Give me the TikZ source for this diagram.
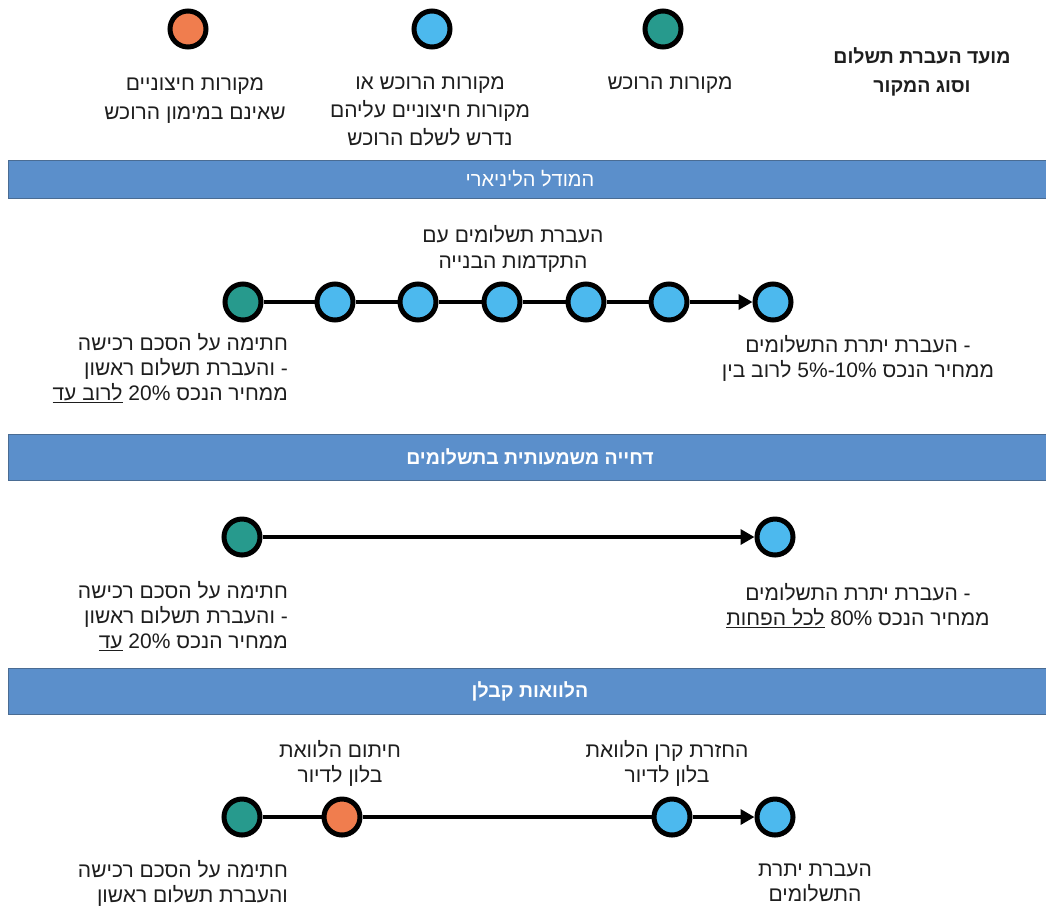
\documentclass[tikz,border=0pt]{standalone}
\usepackage{fontspec}
\setmainfont{Liberation Sans}[Script=Hebrew]
\TeXXeTstate=1
\usetikzlibrary{arrows.meta}
\definecolor{tealc}{HTML}{279A8D}
\definecolor{skyc}{HTML}{4CB9EE}
\definecolor{orngc}{HTML}{F07D4E}
\definecolor{bandc}{HTML}{5B8FCB}
\definecolor{bandl}{HTML}{4A6C93}
\definecolor{txtc}{HTML}{1E1E1E}
\newcommand{\myR}[1]{\beginR #1\endR}
\begin{document}
\begin{tikzpicture}[x=1pt,y=-1pt,
  dot/.style={circle, draw=black, line width=5pt, minimum size=36pt, inner sep=0pt},
  tdot/.style={dot, fill=tealc},
  bdot/.style={dot, fill=skyc},
  odot/.style={dot, fill=orngc},
  lbl/.style={text=txtc, inner sep=0pt, font=\fontsize{21}{25}\selectfont},
  lbl28/.style={lbl, font=\fontsize{21}{28}\selectfont},
  hdr/.style={text=txtc, inner sep=0pt, font=\bfseries\fontsize{19.5}{29}\selectfont},
  bandbox/.style={fill=bandc, draw=bandl, line width=1pt, minimum width=1045pt, inner sep=0pt, anchor=north west},
  bandtxt/.style={text=white, inner sep=0pt, font=\fontsize{20}{22}\selectfont},
  bandtxtb/.style={bandtxt, font=\bfseries\fontsize{19.5}{22}\selectfont},
  link/.style={line width=4pt},
  arr/.style={link, -{Triangle[length=14pt,width=15pt]}}
]
\useasboundingbox (0,0) rectangle (1046,906);
\fill[white] (0,0) rectangle (1046,906);

% legend
\node[odot] (lo) at (188,29) {};
\node[bdot] (lb) at (432,29) {};
\node[tdot] (lt) at (663,29) {};
\node[lbl, font=\fontsize{21}{29}\selectfont, align=center, anchor=north] (lotx) at (195,69.7)
  {\strut\myR{מקורות חיצוניים}\\\myR{שאינם במימון הרוכש}};
\node[lbl28, align=center, anchor=north] (lbtx) at (430,69.4)
  {\strut\myR{מקורות הרוכש או}\\\myR{מקורות חיצוניים עליהם}\\\myR{נדרש לשלם הרוכש}};
\node[lbl28, align=center, anchor=north] (lttx) at (670,69.4) {\strut\myR{מקורות הרוכש}};
\node[hdr, align=center, anchor=north] (hd) at (922,42.7)
  {\strut\myR{מועד העברת תשלום}\\\myR{וסוג המקור}};

% section 1
\node[bandbox, minimum height=38pt] (b1) at (8,160) {};
\node[bandtxt] (b1t) at (530,179) {\myR{המודל הליניארי}};
\node[lbl, font=\fontsize{21}{26}\selectfont, align=center, anchor=north] (s1top) at (513,223.8)
  {\strut\myR{העברת תשלומים עם}\\\myR{התקדמות הבנייה}};
\node[tdot] (a1) at (243,302) {};
\node[bdot] (a2) at (335,302) {};
\node[bdot] (a3) at (418,302) {};
\node[bdot] (a4) at (502,302) {};
\node[bdot] (a5) at (586,302) {};
\node[bdot] (a6) at (669,302) {};
\node[bdot] (a7) at (773,302) {};
\draw[link] (a1) -- (a2);
\draw[link] (a2) -- (a3);
\draw[link] (a3) -- (a4);
\draw[link] (a4) -- (a5);
\draw[link] (a5) -- (a6);
\draw[arr] (a6) -- (a7);
\node[lbl, align=right, anchor=north east] (s1l) at (288,332.5)
  {\strut\myR{חתימה על הסכם רכישה}\\\myR{והעברת תשלום ראשון} -\\\underline{\myR{לרוב עד}} 20\% \myR{ממחיר הנכס}};
\node[lbl, align=center, anchor=north] (s1r) at (858,334.5)
  {\strut\myR{העברת יתרת התשלומים} -\\\myR{לרוב בין} 10\%-5\% \myR{ממחיר הנכס}};

% section 2
\node[bandbox, minimum height=46pt] (b2) at (8,434) {};
\node[bandtxtb] (b2t) at (530,457) {\myR{דחייה משמעותית בתשלומים}};
\node[tdot] (c1) at (242,537) {};
\node[bdot] (c2) at (775,537) {};
\draw[arr] (c1) -- (c2);
\node[lbl, align=right, anchor=north east] (s2l) at (288,580.5)
  {\strut\myR{חתימה על הסכם רכישה}\\\myR{והעברת תשלום ראשון} -\\\underline{\myR{עד}} 20\% \myR{ממחיר הנכס}};
\node[lbl, align=center, anchor=north] (s2r) at (858,582.5)
  {\strut\myR{העברת יתרת התשלומים} -\\\underline{\myR{לכל הפחות}} 80\% \myR{ממחיר הנכס}};

% section 3
\node[bandbox, minimum height=46pt] (b3) at (8,668) {};
\node[bandtxtb] (b3t) at (530,691) {\myR{הלוואות קבלן}};
\node[lbl, align=center, anchor=north] (s3a) at (340,739.5)
  {\strut\myR{חיתום הלוואת}\\\myR{בלון לדיור}};
\node[lbl, align=center, anchor=north] (s3b) at (667,739.5)
  {\strut\myR{החזרת קרן הלוואת}\\\myR{בלון לדיור}};
\node[tdot] (d1) at (242,817) {};
\node[odot] (d2) at (342,817) {};
\node[bdot] (d3) at (672,817) {};
\node[bdot] (d4) at (775,817) {};
\draw[link] (d1) -- (d2);
\draw[link] (d2) -- (d3);
\draw[arr] (d3) -- (d4);
\node[lbl, font=\fontsize{21}{23}\selectfont, align=right, anchor=north east] (s3l) at (288,859.9)
  {\strut\myR{חתימה על הסכם רכישה}\\\myR{והעברת תשלום ראשון}};
\node[lbl, font=\fontsize{21}{23}\selectfont, align=center, anchor=north] (s3r) at (815,859.9)
  {\strut\myR{העברת יתרת}\\\myR{התשלומים}};
\end{tikzpicture}
\end{document}
